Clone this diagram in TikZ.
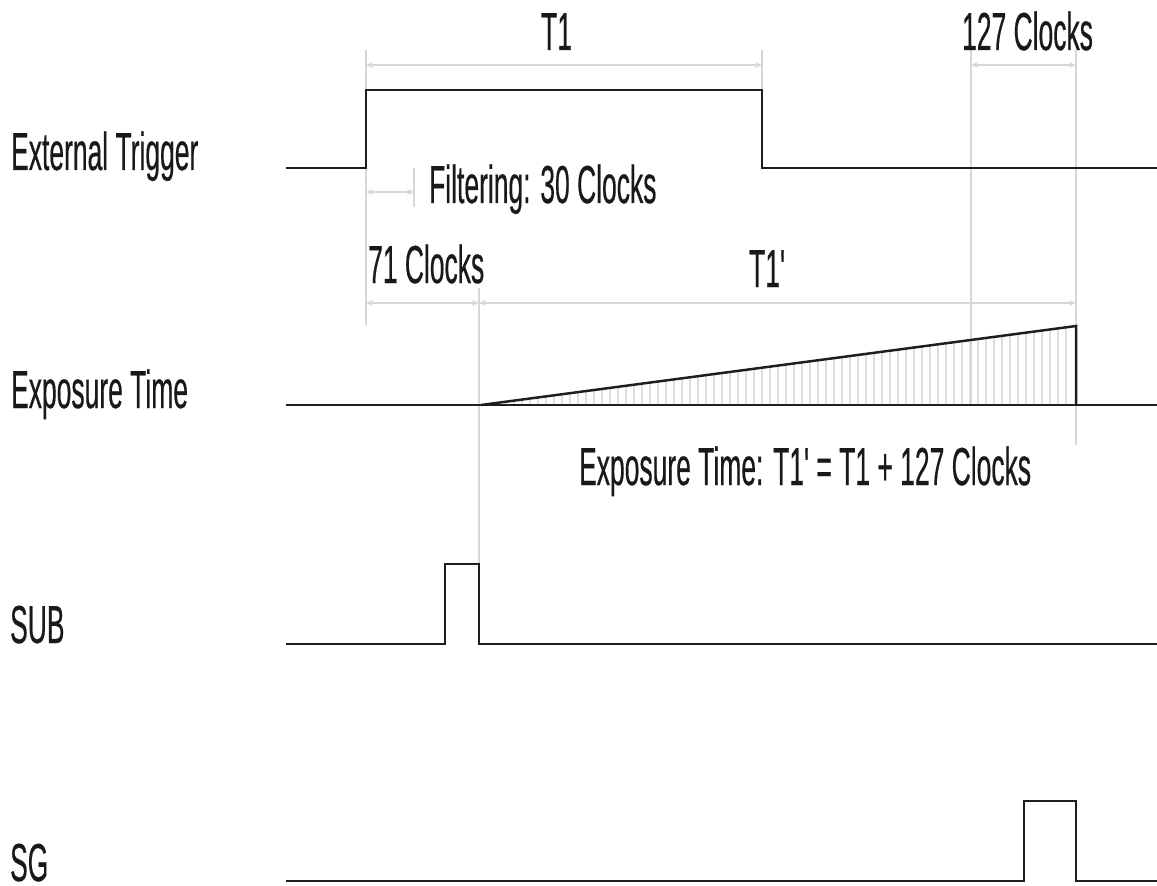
\documentclass[tikz,border=0pt]{standalone}
\usepackage{fontspec}
\setmainfont[FakeBold=0.6]{Liberation Sans}
\usepackage{tikz}
\usetikzlibrary{arrows.meta,positioning,calc}
\definecolor{dimgrey}{RGB}{215,215,215}
\definecolor{hatchgrey}{RGB}{222,222,222}
\definecolor{signalgrey}{RGB}{30,30,30}
\tikzset{
  signal/.style={draw=signalgrey, line width=0.062cm, line join=miter},
  dimline/.style={draw=dimgrey, line width=0.045cm, {Stealth[open,length=1.8mm,width=1.5mm]}-{Stealth[open,length=1.8mm,width=1.5mm]}},
  extline/.style={draw=dimgrey, line width=0.045cm},
  lbltext/.style={font=\fontsize{38}{42}\selectfont, text=black!90, xscale=0.495, transform shape, inner sep=0pt, anchor=base west},
}
\begin{document}
\begin{tikzpicture}[x=0.025cm, y=-0.025cm]
\useasboundingbox (0,0) rectangle (1157,886);
% Guide positions
\coordinate (t1a) at (366,65);
\coordinate (t1b) at (762,65);
\coordinate (ca) at (971,65);
\coordinate (cb) at (1076,65);
\coordinate (fa) at (366,192);
\coordinate (fb) at (414,192);
\coordinate (da) at (366,303);
\coordinate (db) at (479,303);
\coordinate (dc) at (1076,303);
\coordinate (rs) at (481,405);
\coordinate (rt) at (1076,326);
\coordinate (rb) at (1076,405);
% Hatching under the ramp
\foreach \hx in {490,498,...,1072} {
  \draw[hatchgrey, line width=0.05cm] ({\hx},405) -- ({\hx},{405-(\hx-481)*0.1328});
}
% Extension lines
\draw[extline] (366,50) -- (366,325);
\draw[extline] (762,50) -- (762,90);
\draw[extline] (971,50) -- (971,405);
\draw[extline] (1076,50) -- (1076,445);
\draw[extline] (414,168) -- (414,207);
\draw[extline] (479,288) -- (479,564);
% Dimension arrows
\draw[dimline] (t1a) -- (t1b);
\draw[dimline] (ca) -- (cb);
\draw[dimline] (fa) -- (fb);
\draw[dimline] (da) -- (db);
\draw[dimline] (db) -- (dc);
% Waveforms
\draw[signal] (286,168) -- (366,168) -- (366,90) -- (762,90) -- (762,168) -- (1157,168);
\draw[signal] (286,405) -- (1157,405);
\draw[signal] (rs) -- (rt) -- (rb);
\draw[signal] (286,644) -- (445,644) -- (445,564) -- (479,564) -- (479,644) -- (1157,644);
\draw[signal] (286,881) -- (1024,881) -- (1024,801) -- (1076,801) -- (1076,881) -- (1157,881);
% Row names
\node[lbltext] (exttrig) at (11,170) {External Trigger};
\node[lbltext] (exptime) at (11,408) {Exposure Time};
\node[lbltext] (sub) at (10,643) {SUB};
\node[lbltext] (sg) at (10,881) {SG};
% Dimension texts
\node[lbltext] (t1) at (541,50) {T1};
\node[lbltext] (clocksb) at (962,50) {127 Clocks};
\node[lbltext] (filter) at (429,203) {Filtering: 30 Clocks};
\node[lbltext] (clocksa) at (368,283) {71 Clocks};
\node[lbltext] (t1p) at (749,287) {T1\textquotesingle};
\node[lbltext] (expnote) at (579,485) {Exposure Time: T1\textquotesingle{} = T1 + 127 Clocks};
\end{tikzpicture}
\end{document}
